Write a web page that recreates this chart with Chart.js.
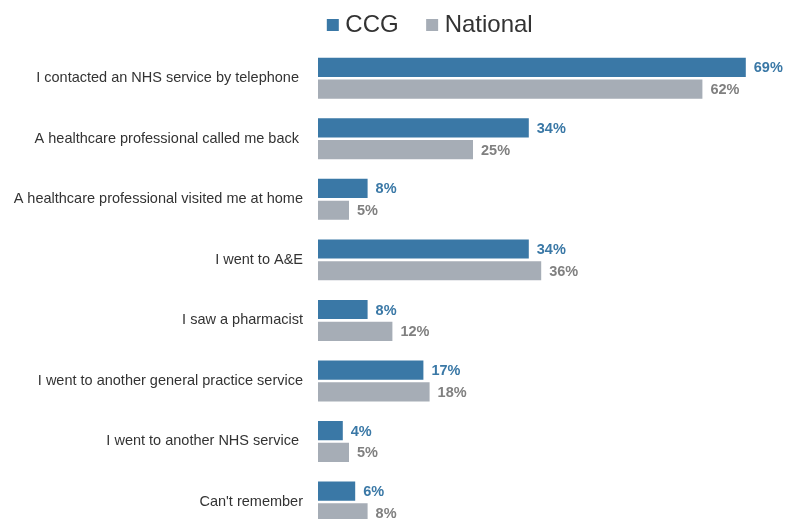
<!DOCTYPE html>
<html>
<head>
<meta charset="utf-8">
<script src="https://cdn.jsdelivr.net/npm/chart.js@4/dist/chart.umd.min.js"></script>
<style>
  html, body { margin: 0; padding: 0; background: #fff; overflow: hidden; }
  canvas { display: block; }
</style>
</head>
<body>
<canvas id="chart" width="786" height="548"></canvas>
<script>
const categories = [
  'I contacted an NHS service by telephone ',
  'A healthcare professional called me back ',
  'A healthcare professional visited me at home',
  'I went to A&E',
  'I saw a pharmacist',
  'I went to another general practice service',
  'I went to another NHS service ',
  "Can't remember"
];
const ccgValues = [69, 34, 8, 34, 8, 17, 4, 6];
const nationalValues = [62, 25, 5, 36, 12, 18, 5, 8];

const ccgColour = '#3a78a6';
const nationalColour = '#a6adb6';
const fontFamily = '"Liberation Sans", Arial, sans-serif';

// draws the "69%" style labels after each bar
const barLabels = {
  id: 'barLabels',
  afterDatasetsDraw(chart) {
    const ctx = chart.ctx;
    ctx.save();
    ctx.font = 'bold 14.5px ' + fontFamily;
    ctx.textAlign = 'left';
    ctx.textBaseline = 'middle';
    chart.data.datasets.forEach((ds, i) => {
      ctx.fillStyle = i === 0 ? ccgColour : '#808080';
      chart.getDatasetMeta(i).data.forEach((bar, j) => {
        ctx.fillText(ds.data[j] + '%', bar.x + 8, bar.y + 1);
      });
    });
    ctx.restore();
  }
};

// legend sits a bit right of centre and higher, like the original
const legendPlace = {
  id: 'legendPlace',
  afterInit(chart) {
    const lg = chart.legend;
    const fit = lg.fit.bind(lg);
    lg.fit = function () { fit(); this.height = 44; };
  },
  afterLayout(chart) {
    const lg = chart.legend;
    lg.left += 41;
    lg.right += 41;
    lg.top -= 24;
  }
};

new Chart(document.getElementById('chart').getContext('2d'), {
  type: 'bar',
  data: {
    labels: categories,
    datasets: [
      { label: 'CCG', data: ccgValues, backgroundColor: ccgColour },
      { label: 'National', data: nationalValues, backgroundColor: nationalColour }
    ]
  },
  options: {
    indexAxis: 'y',
    responsive: false,
    animation: false,
    categoryPercentage: 0.72,
    barPercentage: 0.88,
    layout: { padding: { left: 0, right: 3, top: 4, bottom: 2 } },
    plugins: {
      legend: {
        position: 'top',
        labels: {
          usePointStyle: true,
          pointStyle: 'rect',
          boxWidth: 1,
          boxHeight: 12,
          padding: 33,
          color: '#333',
          font: { size: 24, family: fontFamily }
        }
      },
      tooltip: { enabled: false }
    },
    scales: {
      x: { display: false, min: 0, max: 75 },
      y: {
        grid: { display: false },
        border: { display: false },
        afterFit(axis) { axis.width = 318; },
        ticks: {
          padding: 7,
          color: '#333',
          font: { size: 14.5, family: fontFamily }
        }
      }
    }
  },
  plugins: [barLabels, legendPlace]
});
</script>
</body>
</html>
